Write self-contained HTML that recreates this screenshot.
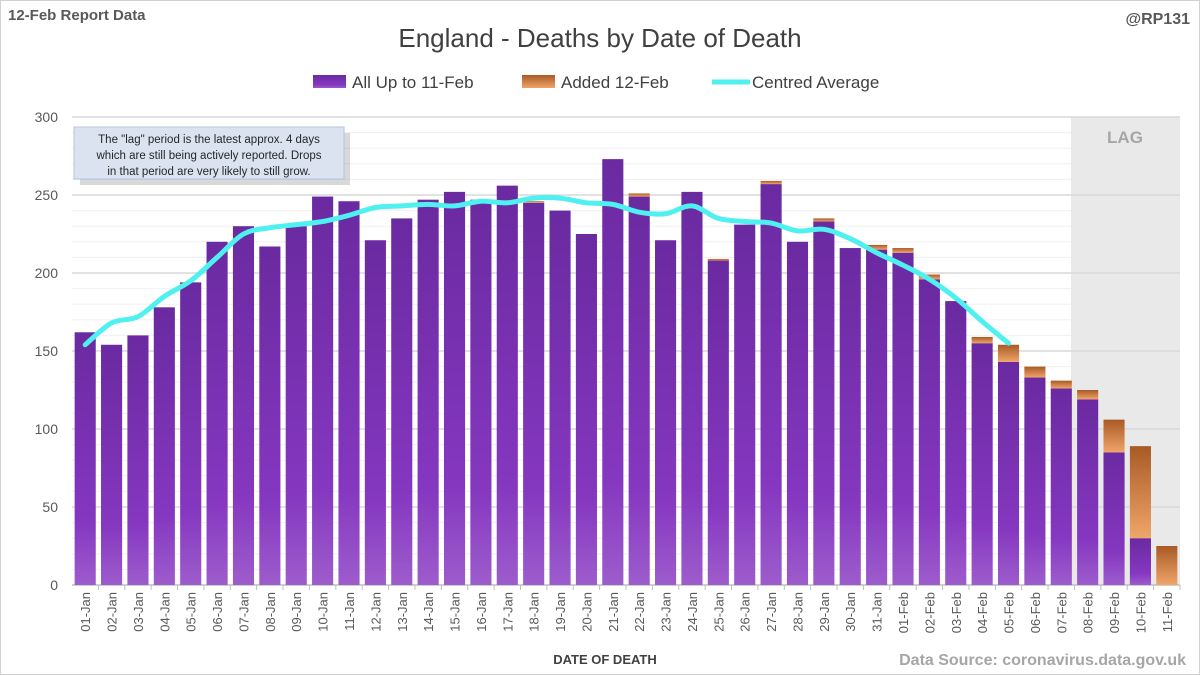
<!DOCTYPE html>
<html><head><meta charset="utf-8"><style>
body{margin:0;background:#fff;}
svg{display:block;font-family:"Liberation Sans",sans-serif;}
</style></head><body>
<svg id="c" width="1200" height="675" viewBox="0 0 1200 675">
<defs>
<linearGradient id="gp" x1="0" y1="0" x2="0" y2="1"><stop offset="0" stop-color="#6a2aa0"/><stop offset="0.75" stop-color="#8537c0"/><stop offset="1" stop-color="#9d5ccc"/></linearGradient>
<linearGradient id="go" x1="0" y1="0" x2="0" y2="1"><stop offset="0" stop-color="#a85a25"/><stop offset="1" stop-color="#f0a56a"/></linearGradient>
</defs>
<rect x="0.5" y="0.5" width="1199" height="674" fill="#fff" stroke="#d0d0d0"/>
<text x="8" y="20" font-size="15" font-weight="bold" fill="#595959">12-Feb Report Data</text>
<text x="1190" y="24" font-size="16" font-weight="bold" fill="#595959" text-anchor="end">@RP131</text>
<text x="600" y="47" font-size="26" fill="#404040" text-anchor="middle">England - Deaths by Date of Death</text>
<g>
<g><rect x="313" y="75" width="33" height="13" fill="url(#gp)"/><text x="352" y="88" font-size="17" fill="#404040">All Up to 11-Feb</text></g>
<g><rect x="522" y="75" width="33" height="13" fill="url(#go)"/><text x="561" y="88" font-size="17" fill="#404040">Added 12-Feb</text></g>
<g><line x1="712" y1="82" x2="750" y2="82" stroke="#4ff0f0" stroke-width="5"/><text x="752" y="88" font-size="17" fill="#404040">Centred Average</text></g>
</g>
<g id="grid"></g>
<rect x="1071" y="117" width="109" height="468" fill="#e9e9e9"/>
<text x="1125" y="143" font-size="17" font-weight="bold" fill="#a6a6a6" text-anchor="middle">LAG</text>
<g id="grid2"></g>
<g id="bars"></g>
<path id="avg" fill="none" stroke="#4ff0f0" stroke-width="5" stroke-linejoin="round" stroke-linecap="round"/>
<g id="xt"></g>
<g>
<rect x="77" y="130" width="270" height="52" fill="#000" opacity="0.15" transform="translate(3,3)"/>
<rect x="74" y="127" width="270" height="52" fill="#dbe3f1" stroke="#b4c4de"/>
<text font-size="11.5" fill="#262626" text-anchor="middle"><tspan x="209" y="143">The "lag" period is the latest approx. 4 days</tspan><tspan x="209" y="159">which are still being actively reported.  Drops</tspan><tspan x="209" y="175">in that period are very likely to still grow.</tspan></text>
</g>
<text x="605" y="664" font-size="13" font-weight="bold" fill="#404040" text-anchor="middle">DATE OF DEATH</text>
<text x="1186" y="665" font-size="16" font-weight="bold" fill="#a6a6a6" text-anchor="end">Data Source: coronavirus.data.gov.uk</text>
</svg>
<script>
const categories=["01-Jan","02-Jan","03-Jan","04-Jan","05-Jan","06-Jan","07-Jan","08-Jan","09-Jan","10-Jan","11-Jan","12-Jan","13-Jan","14-Jan","15-Jan","16-Jan","17-Jan","18-Jan","19-Jan","20-Jan","21-Jan","22-Jan","23-Jan","24-Jan","25-Jan","26-Jan","27-Jan","28-Jan","29-Jan","30-Jan","31-Jan","01-Feb","02-Feb","03-Feb","04-Feb","05-Feb","06-Feb","07-Feb","08-Feb","09-Feb","10-Feb","11-Feb"];
const baseValues=[162,154,160,178,194,220,230,217,230,249,246,221,235,247,252,247,256,245,240,225,273,249,221,252,208,231,257,220,233,216,215,213,196,182,155,143,133,126,119,85,30,0];
const addedValues=[0,0,0,0,0,0,0,0,0,0,0,0,0,0,0,0,0,1,0,0,0,2,0,0,1,0,2,0,2,0,3,3,3,0,4,11,7,5,6,21,59,25];
const averageValues=[154,168,172,185,195,210,225,229,231,233,237,242,243,244,243,246,245,248,248,245,244,239,238,243,235,233,232,227,228,222,213,205,196,184,169,155];
const yTicks=[0,50,100,150,200,250,300];
const NS="http://www.w3.org/2000/svg";
const X0=72,X1=1180,Y0=585,YT=117,YMAX=300;
const slot=(X1-X0)/categories.length;
const y=v=>Y0-v/YMAX*(Y0-YT);
const xc=i=>X0+slot*(i+0.5);
function mk(t,a,p){const e=document.createElementNS(NS,t);for(const k in a)e.setAttribute(k,a[k]);p.appendChild(e);return e;}
const grid=document.getElementById('grid'),grid2=document.getElementById('grid2');
for(let v=10;v<=YMAX;v+=10){if(v%50)mk('line',{x1:X0,x2:X1,y1:y(v),y2:y(v),stroke:'#f0f0f0','stroke-width':1},grid);}
yTicks.forEach(v=>{
 const l=mk('line',{x1:X0,x2:X1,y1:y(v),y2:y(v),stroke:v?'#d9d9d9':'#bfbfbf','stroke-width':1.5},grid2);
 
 
 const t=mk('text',{x:X0-14,y:y(v)+5,'font-size':14,fill:'#595959','text-anchor':'end'},grid2);
 t.textContent=v;
 
 
});
const bars=document.getElementById('bars'),xt=document.getElementById('xt');
const bw=slot*0.8;
categories.forEach((c,i)=>{
 const x=xc(i)-bw/2;
 if(baseValues[i]>0){const r=mk('rect',{x:x,y:y(baseValues[i]),width:bw,height:Y0-y(baseValues[i]),fill:'url(#gp)'},bars);
 
 }
 if(addedValues[i]>0){const top=baseValues[i]+addedValues[i];const r=mk('rect',{x:x,y:y(top),width:bw,height:y(baseValues[i])-y(top),fill:'url(#go)'},bars);
 
 }
 mk('line',{x1:X0+slot*(i+1),x2:X0+slot*(i+1),y1:Y0,y2:Y0+5,stroke:'#bfbfbf'},xt);
 const t=mk('text',{x:0,y:0,'font-size':13,fill:'#595959','text-anchor':'end',transform:`translate(${xc(i)+5},${Y0+7}) rotate(-90)`},xt);
 t.textContent=c;
 
 
});
const pts=averageValues.map((v,i)=>[xc(i),y(v)]);
let d='M'+pts[0][0]+','+pts[0][1];
for(let i=0;i<pts.length-1;i++){const p0=pts[Math.max(0,i-1)],p1=pts[i],p2=pts[i+1],p3=pts[Math.min(pts.length-1,i+2)];
 d+=` C${p1[0]+(p2[0]-p0[0])/6},${p1[1]+(p2[1]-p0[1])/6} ${p2[0]-(p3[0]-p1[0])/6},${p2[1]-(p3[1]-p1[1])/6} ${p2[0]},${p2[1]}`;}
document.getElementById('avg').setAttribute('d',d);
</script>
</body></html>
